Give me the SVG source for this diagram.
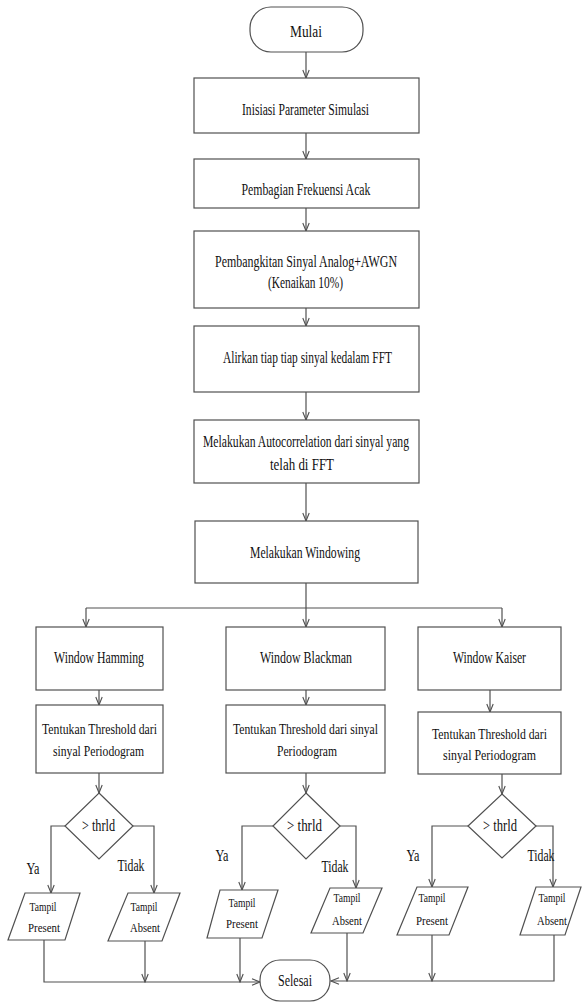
<svg xmlns="http://www.w3.org/2000/svg" width="582" height="1002" viewBox="0 0 582 1002">
<style>
.b{fill:#fff;stroke:#505050;stroke-width:1.2}
.c{fill:none;stroke:#505050;stroke-width:1.2}
.a{marker-end:url(#ah)}
text{font-family:'Liberation Serif','DejaVu Serif','Times New Roman',serif;fill:#111;text-anchor:middle;font-size:16px}
.t{font-size:14.5px}
.s{font-size:13.5px}
</style>
<defs>
<marker id="ah" viewBox="-9 -5 10 10" refX="0" refY="0" markerWidth="10" markerHeight="10" markerUnits="userSpaceOnUse" orient="auto">
<path d="M-8,-3.2 L0,0 L-8,3.2" fill="none" stroke="#505050" stroke-width="1.1"/>
</marker>
</defs>
<rect width="582" height="1002" fill="#fff"/>
<g id="connectors">
<path class="c a" d="M306,52 V78"/>
<path class="c a" d="M306,133 V159"/>
<path class="c a" d="M306,208 V231"/>
<path class="c a" d="M306,308 V326"/>
<path class="c a" d="M306,392 V420"/>
<path class="c a" d="M306,483 V521"/>
<path class="c" d="M306,583 V608 M86,608 H502"/>
<path class="c a" d="M86,608 V627"/>
<path class="c a" d="M306,608 V627"/>
<path class="c a" d="M502,608 V627"/>
<path class="c a" d="M99,690 V705"/>
<path class="c a" d="M306,690 V705"/>
<path class="c a" d="M490,690 V712"/>
<path class="c a" d="M99,773 V793"/>
<path class="c a" d="M306,773 V793"/>
<path class="c a" d="M502,774 V794"/>
<path class="c a" d="M65,826 H51 V893"/>
<path class="c a" d="M133,826 H154 V893"/>
<path class="c a" d="M273,826 H242 V890"/>
<path class="c a" d="M340,826 H356 V888"/>
<path class="c a" d="M468,826 H432 V887"/>
<path class="c a" d="M536,826 H553 V887"/>
<path class="c a" d="M44,940 V982 H260"/>
<path class="c a" d="M145,941 V982"/>
<path class="c a" d="M240,938 V982"/>
<path class="c a" d="M554,935 V981 H331"/>
<path class="c a" d="M347,933 V981"/>
<path class="c a" d="M432,935 V981"/>
</g>
<g id="mulai"><rect class="b" x="250" y="7" width="113" height="45" rx="21"/><text x="306" y="37" textLength="32" lengthAdjust="spacingAndGlyphs">Mulai</text></g>
<g id="inisiasi"><rect class="b" x="194" y="78" width="225" height="55"/><text x="305.5" y="115" textLength="127" lengthAdjust="spacingAndGlyphs">Inisiasi Parameter Simulasi</text></g>
<g id="pembagian"><rect class="b" x="194" y="159" width="225" height="49"/><text x="306" y="195" textLength="129" lengthAdjust="spacingAndGlyphs">Pembagian Frekuensi Acak</text></g>
<g id="pembangkitan"><rect class="b" x="194" y="231" width="225" height="77"/><text x="306" y="267" textLength="182" lengthAdjust="spacingAndGlyphs">Pembangkitan Sinyal  Analog+AWGN</text><text x="305.5" y="288" textLength="75" lengthAdjust="spacingAndGlyphs">(Kenaikan 10%)</text></g>
<g id="alirkan"><rect class="b" x="194" y="326" width="225" height="66"/><text x="307.5" y="363" textLength="169" lengthAdjust="spacingAndGlyphs">Alirkan tiap tiap sinyal kedalam FFT</text></g>
<g id="autocorr"><rect class="b" x="194" y="420" width="225" height="63"/><text x="306" y="447" textLength="206" lengthAdjust="spacingAndGlyphs">Melakukan Autocorrelation dari sinyal yang</text><text x="302" y="470" textLength="64" lengthAdjust="spacingAndGlyphs">telah di FFT</text></g>
<g id="windowing"><rect class="b" x="195" y="521" width="223" height="62"/><text x="305" y="558" textLength="110" lengthAdjust="spacingAndGlyphs">Melakukan Windowing</text></g>
<g id="hamming"><rect class="b" x="36" y="627" width="127" height="63"/><text x="99" y="663" textLength="90" lengthAdjust="spacingAndGlyphs">Window Hamming</text></g>
<g id="blackman"><rect class="b" x="226" y="627" width="159" height="63"/><text x="306" y="663" textLength="92" lengthAdjust="spacingAndGlyphs">Window Blackman</text></g>
<g id="kaiser"><rect class="b" x="418" y="627" width="143" height="63"/><text x="489.5" y="663" textLength="73" lengthAdjust="spacingAndGlyphs">Window Kaiser</text></g>
<g id="thr-hamming"><rect class="b" x="36" y="705" width="127" height="68"/><text class="t" x="99.5" y="734" textLength="115" lengthAdjust="spacingAndGlyphs">Tentukan Threshold dari</text><text class="t" x="98.5" y="756" textLength="91" lengthAdjust="spacingAndGlyphs">sinyal Periodogram</text></g>
<g id="thr-blackman"><rect class="b" x="226" y="705" width="159" height="68"/><text class="t" x="305.5" y="734" textLength="145" lengthAdjust="spacingAndGlyphs">Tentukan Threshold dari sinyal</text><text class="t" x="307" y="756" textLength="60" lengthAdjust="spacingAndGlyphs">Periodogram</text></g>
<g id="thr-kaiser"><rect class="b" x="418" y="712" width="143" height="62"/><text class="t" x="489.5" y="739" textLength="115" lengthAdjust="spacingAndGlyphs">Tentukan Threshold dari</text><text class="t" x="489.5" y="760" textLength="93" lengthAdjust="spacingAndGlyphs">sinyal Periodogram</text></g>
<g id="dec-hamming"><path class="b" d="M99,793 L133,826 L99,859 L65,826 Z"/><text x="98.5" y="831" textLength="33" lengthAdjust="spacingAndGlyphs">&gt; thrld</text></g>
<g id="dec-blackman"><path class="b" d="M306,793 L340,826 L306,859 L273,826 Z"/><text x="304.5" y="831" textLength="35" lengthAdjust="spacingAndGlyphs">&gt; thrld</text></g>
<g id="dec-kaiser"><path class="b" d="M502,794 L536,826 L502,858 L468,826 Z"/><text x="500" y="831" textLength="34" lengthAdjust="spacingAndGlyphs">&gt; thrld</text></g>
<g id="labels">
<text x="33" y="874" textLength="13" lengthAdjust="spacingAndGlyphs">Ya</text>
<text x="131" y="871" textLength="27" lengthAdjust="spacingAndGlyphs">Tidak</text>
<text x="222" y="861" textLength="13" lengthAdjust="spacingAndGlyphs">Ya</text>
<text x="335" y="872" textLength="27" lengthAdjust="spacingAndGlyphs">Tidak</text>
<text x="413" y="861" textLength="13" lengthAdjust="spacingAndGlyphs">Ya</text>
<text x="541" y="861" textLength="27" lengthAdjust="spacingAndGlyphs">Tidak</text>
</g>
<g id="present-hamming"><path class="b" d="M25,893 L80,893 L65,940 L8,940 Z"/><text class="s" x="43" y="911" textLength="27" lengthAdjust="spacingAndGlyphs">Tampil</text><text class="s" x="44" y="932" textLength="32" lengthAdjust="spacingAndGlyphs">Present</text></g>
<g id="absent-hamming"><path class="b" d="M128,893 L180,893 L162,941 L108,941 Z"/><text class="s" x="144" y="911" textLength="27" lengthAdjust="spacingAndGlyphs">Tampil</text><text class="s" x="145" y="932" textLength="30" lengthAdjust="spacingAndGlyphs">Absent</text></g>
<g id="present-blackman"><path class="b" d="M220,890 L278,890 L262,938 L207,938 Z"/><text class="s" x="242" y="907" textLength="27" lengthAdjust="spacingAndGlyphs">Tampil</text><text class="s" x="242" y="928" textLength="32" lengthAdjust="spacingAndGlyphs">Present</text></g>
<g id="absent-blackman"><path class="b" d="M330,888 L382,888 L363,933 L311,933 Z"/><text class="s" x="347" y="902" textLength="27" lengthAdjust="spacingAndGlyphs">Tampil</text><text class="s" x="347" y="925" textLength="30" lengthAdjust="spacingAndGlyphs">Absent</text></g>
<g id="present-kaiser"><path class="b" d="M417,887 L468,887 L449,935 L397,935 Z"/><text class="s" x="432" y="902" textLength="27" lengthAdjust="spacingAndGlyphs">Tampil</text><text class="s" x="432" y="925" textLength="32" lengthAdjust="spacingAndGlyphs">Present</text></g>
<g id="absent-kaiser"><path class="b" d="M536,887 L581,887 L565,935 L520,935 Z"/><text class="s" x="552" y="902" textLength="27" lengthAdjust="spacingAndGlyphs">Tampil</text><text class="s" x="552" y="925" textLength="30" lengthAdjust="spacingAndGlyphs">Absent</text></g>
<g id="selesai"><rect class="b" x="260" y="960" width="70" height="41" rx="20"/><text x="295" y="986" textLength="34" lengthAdjust="spacingAndGlyphs">Selesai</text></g>
</svg>
